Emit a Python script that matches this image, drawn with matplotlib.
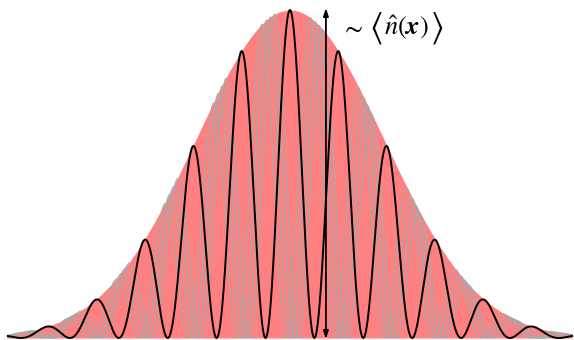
import numpy as np
import matplotlib
matplotlib.use("Agg")
import matplotlib.pyplot as plt

# Density envelope and lattice modulation parameters (x in lattice periods)
amplitude = 1.0
sigma = 1.92
x_span = [-5.77, 5.77]
black_phase = 0.0
gray_phases = [0.42, 0.52, 0.60, 0.68]
arrow_x = 0.736
label_parts = [(r"$\sim$", 19), (r"$\langle$", 25), (r"$\hat{n}(\boldsymbol{x})$", 19), (r"$\rangle$", 25)]
label_gaps = [0, 4, 1, 1]

plt.rcParams["mathtext.fontset"] = "stix"

fig = plt.figure(figsize=(5.74, 3.40), dpi=100)
ax = fig.add_axes([0, 0, 1, 1])
ax.set_xlim(-5.93, 5.81)
ax.set_ylim(-0.0061, 1.0305)
ax.axis("off")

x = np.linspace(x_span[0], x_span[1], 4000)
env = amplitude * np.exp(-x**2 / (2 * sigma**2))

ax.fill_between(x, 0, env, color="#ff8080", lw=0, zorder=1)

for ph in gray_phases:
    ax.plot(x, env * np.cos(np.pi * (x - ph))**2, color="#a9a9a9", lw=0.85, zorder=2)

ax.plot(x, env * np.cos(np.pi * (x - black_phase))**2, color="black", lw=1.4, zorder=3)

ax.annotate("", xy=(arrow_x, 1.006), xytext=(arrow_x, -0.003),
            arrowprops=dict(arrowstyle="<|-|>,head_length=0.45,head_width=0.15",
                            color="black", lw=1.3, shrinkA=0, shrinkB=0), zorder=4)

# Label built piece by piece so the angle brackets can be taller
prev = None
for (txt, fs), gap in zip(label_parts, label_gaps):
    if prev is None:
        prev = ax.text(arrow_x + 0.3, 0.945, txt, fontsize=fs, ha="left", va="center", zorder=5)
    else:
        prev = ax.annotate(txt, xy=(1, 0.5), xycoords=prev, xytext=(gap, 0),
                           textcoords="offset points", fontsize=fs,
                           ha="left", va="center", zorder=5)

fig.savefig("out.png", dpi=100)
